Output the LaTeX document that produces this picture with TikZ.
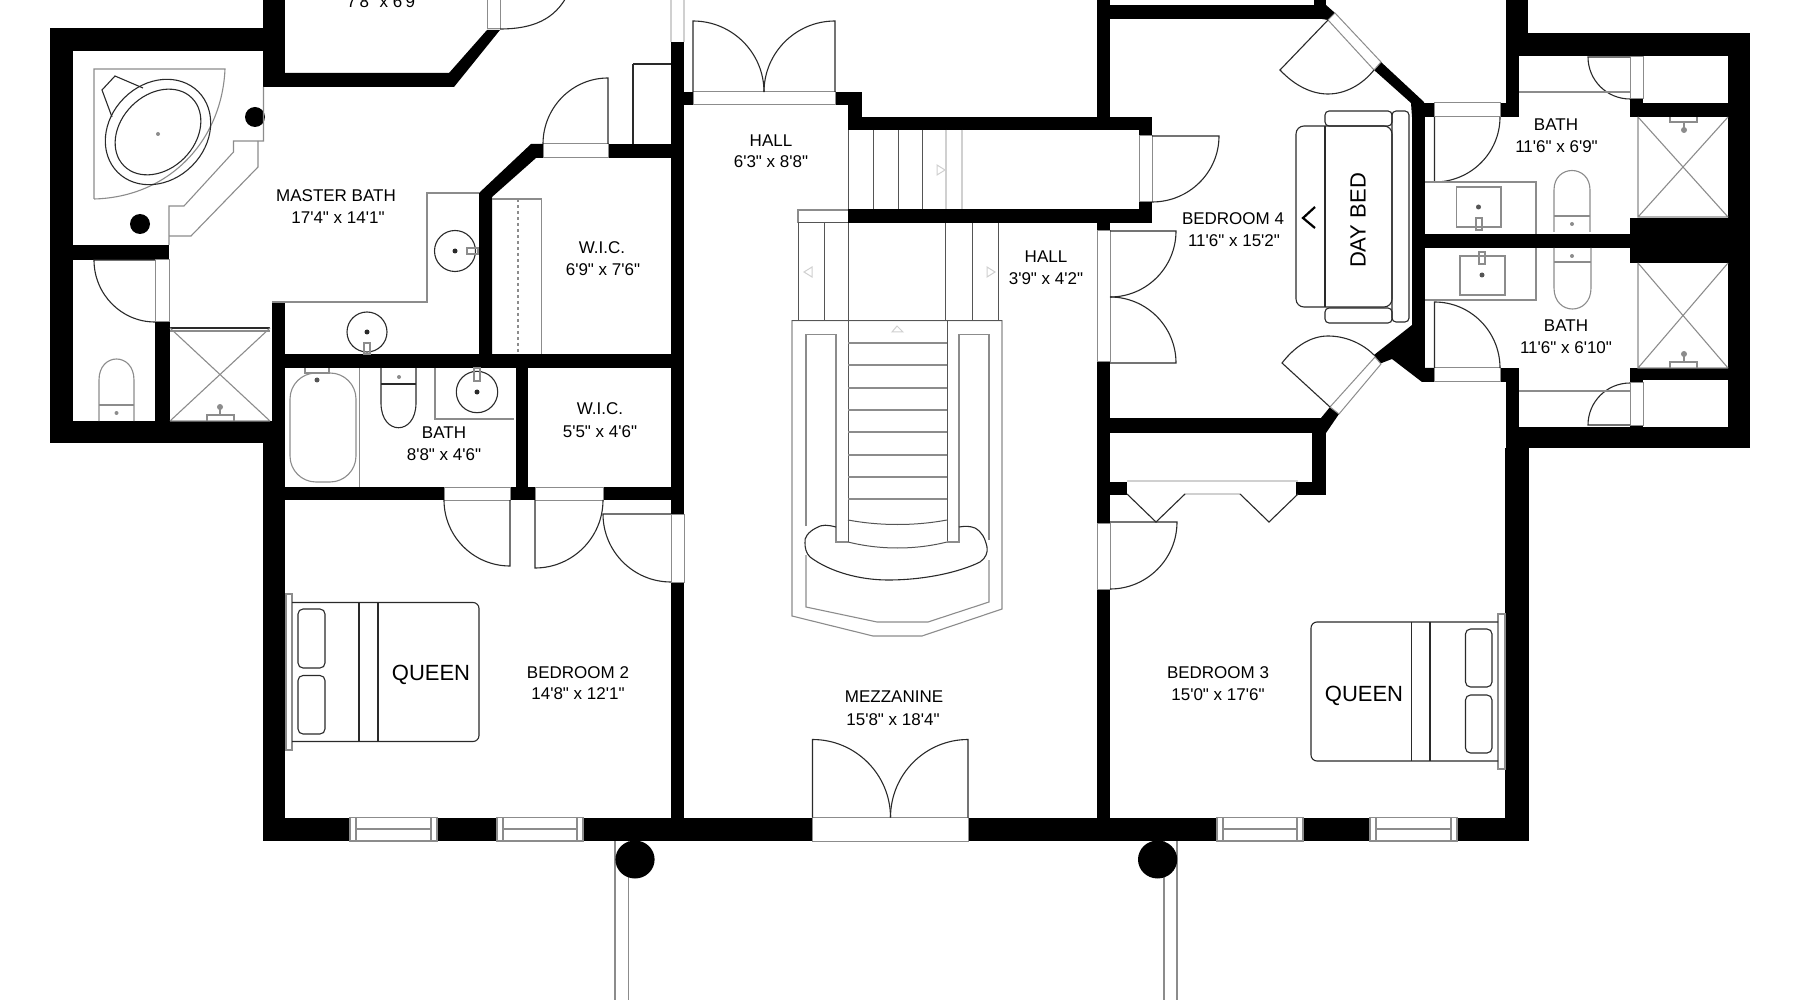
\documentclass[tikz,border=0pt]{standalone}
\usepackage{fontspec}
\usetikzlibrary{calc}
\newfontfamily\labfont{Liberation Sans}
\definecolor{ink}{HTML}{2A2A2A}
\definecolor{mid}{HTML}{555555}
\definecolor{soft}{HTML}{8C8C8C}
\definecolor{faint}{HTML}{D0D0D0}
\tikzset{
  wallfill/.style={fill=black,draw=none},
  thinline/.style={draw=ink,line width=1.1pt},
  midline/.style={draw=mid,line width=1pt},
  softline/.style={draw=soft,line width=1.1pt},
  faintline/.style={draw=faint,line width=1.2pt},
  roomlab/.style={font=\labfont\fontsize{17}{20}\selectfont,text=black,inner sep=0pt,yshift=-1pt},
  biglab/.style={font=\labfont\fontsize{22}{26}\selectfont,text=black,inner sep=0pt,yshift=-2.5pt},
}
\newcommand\wl[4]{\fill[wallfill] (#1,#2) rectangle (#3,#4);}
\newcommand\frm[4]{\filldraw[fill=white,draw=soft,line width=1pt] (#1,#2) rectangle (#3,#4);}
\newcommand\doorleaf[6]{%
  \coordinate (dh) at (#1,#2);\coordinate (da) at (#3,#4);\coordinate (db) at (#5,#6);
  \coordinate (dc) at ($(da)+(db)-(dh)$);
  \draw[thinline] (dh)--(da) .. controls ($(da)!.552!(dc)$) and ($(db)!.552!(dc)$) .. (db);}
\newcommand\win[2]{%
  \fill[white] (#1,817.5) rectangle (#2,841);
  \draw[soft,line width=1.2pt] (#1,817.5) rectangle (#2,841);
  \draw[soft,line width=1.2pt] (#1+6,817.5)--(#1+6,841) (#2-6,817.5)--(#2-6,841) (#1+6,829)--(#2-6,829);}
\newcommand\sink[3]{\draw[thinline] (#1,#2) ellipse [x radius=#3,y radius=#3];\fill[ink] (#1,#2) circle [radius=2.5];}
\begin{document}
\begin{tikzpicture}[x=1pt,y=-1pt]
\useasboundingbox (0,0) rectangle (1800,1000);
\fill[white] (0,0) rectangle (1800,1000);

% ---- walls
\wl{50}{28}{285}{51}
\wl{263}{0}{285}{87}
\fill[wallfill] (263,73)--(449,73)--(487,30)--(500,30)--(454,87)--(263,87)--cycle;
\wl{50}{28}{73}{443}
\wl{50}{421}{285}{443}
\wl{73}{245}{169}{260}
\wl{155}{322}{170}{421}
\wl{272}{302}{285}{443}
\wl{263}{443}{285}{841}
\wl{263}{817.5}{1528.5}{841}
\wl{272}{354}{684}{368}
\fill[wallfill] (479,354)--(479,193)--(531,144)--(543,144)--(543,158)--(536,158)--(492,197)--(492,354)--cycle;
\wl{608}{144}{684}{158}
\wl{671}{42}{684}{841}
\wl{516}{368}{528}{500}
\wl{285}{487}{684}{500}
\wl{684}{92}{862}{105}
\wl{848}{105}{862}{130}
\wl{848}{117}{1152}{130}
\wl{848}{209}{1152}{223}
\wl{1139}{117}{1152}{223}
\wl{1097}{0}{1110}{117}
\wl{1097}{223}{1110}{841}
\wl{1097}{5}{1326}{19}
\wl{1314}{0}{1326}{19}
\fill[wallfill] (1326,5)--(1335,13)--(1328,20)--(1322,19)--cycle;
\fill[wallfill] (1374,70)--(1381,62)--(1424,102)--(1425,117)--(1412,117)--(1411,103)--cycle;
\wl{1412}{103}{1425}{368}
\fill[wallfill] (1412,325)--(1374,355)--(1379,364)--(1392,359)--(1422,382)--(1434.5,382)--(1434.5,368)--(1425,368)--cycle;
\wl{1425}{103}{1434.5}{117}
\wl{1500}{103}{1519}{117}
\wl{1506}{0}{1527.5}{56}
\wl{1506}{33}{1750}{56}
\wl{1506}{56}{1519}{117}
\wl{1728}{33}{1750}{448}
\wl{1506}{427}{1750}{448}
\wl{1506}{368}{1519}{427}
\wl{1500}{368}{1519}{382}
\wl{1425}{234}{1630}{248}
\wl{1630}{218}{1750}{263}
\wl{1630}{103}{1728}{117}
\wl{1630}{56}{1643}{117}
\wl{1630}{368}{1728}{380}
\wl{1630}{368}{1643}{427}
\wl{1505}{448}{1528.5}{841}
\wl{1097}{418}{1321}{433}
\fill[wallfill] (1330,407)--(1339,414)--(1326,433)--(1312,433)--(1321,418)--cycle;
\wl{1312}{433}{1326}{495}
\wl{1296}{482}{1326}{495}
\wl{1110}{482}{1127}{495}

% ---- door frames
\frm{487}{0}{500}{29}
\frm{155}{260}{169}{322}
\frm{543}{144}{608}{158}
\frm{444}{487}{510}{500}
\frm{535}{487}{603}{500}
\frm{671}{514}{684}{582}
\frm{693}{92}{835}{105}
\frm{1139}{136}{1152}{202}
\frm{1097}{231}{1110}{362}
\frm{1097}{523}{1110}{589}
\frm{1434.5}{103}{1500}{117}
\frm{1434.5}{368}{1500}{382}
\frm{1630}{57}{1643}{99}
\frm{1630}{383}{1643}{425}
\frm{812.5}{817.5}{968}{841}
\filldraw[fill=white,draw=soft,line width=1pt] (1328,20)--(1335,13)--(1381,62)--(1374,70)--cycle;
\filldraw[fill=white,draw=soft,line width=1pt] (1375,357)--(1381,364)--(1339,414)--(1330,407)--cycle;
\draw[faintline] (671,0)--(671,42) (684,0)--(684,42);

% ---- windows
\win{350}{437}
\win{497}{583}
\win{1217}{1303}
\win{1370}{1457}

% ---- doors
\draw[thinline] (500,29) .. controls (532,29) and (555,20) .. (568,-6);
\doorleaf{155}{260}{94}{260}{155}{322}
\doorleaf{608}{144}{608}{78}{543}{144}
\doorleaf{510}{500}{510}{566}{444}{500}
\doorleaf{535}{500}{535}{568}{603}{500}
\doorleaf{671}{514}{603}{514}{671}{582}
\doorleaf{693}{92}{693}{21}{764}{92}
\doorleaf{835}{92}{835}{21}{764}{92}
\doorleaf{812.5}{817.5}{812.5}{739.5}{890.5}{817.5}
\doorleaf{968}{817.5}{968}{739.5}{890.5}{817.5}
\doorleaf{1152}{136}{1219}{136}{1152}{202}
\doorleaf{1110}{231}{1176}{231}{1110}{297}
\doorleaf{1110}{363}{1176}{363}{1110}{297}
\doorleaf{1110}{522}{1177}{522}{1110}{589}
\doorleaf{1630}{57}{1588}{57}{1630}{99}
\doorleaf{1630}{425}{1588}{425}{1630}{383}
\doorleaf{1434.5}{117}{1434.5}{182}{1500}{117}
\doorleaf{1434.5}{368}{1434.5}{302}{1500}{368}
\draw[thinline] (1328,20)--(1280,70) .. controls (1295,86) and (1312,94) .. (1328,94) .. controls (1345,94) and (1362,85) .. (1374,70);
\draw[thinline] (1330,407)--(1282,363) .. controls (1296,345) and (1312,336) .. (1328,336) .. controls (1345,336) and (1362,343) .. (1374,355);

% ---- closet bifolds
\draw[faintline] (1127,481)--(1298,481) (1185,494)--(1240,494);
\draw[thinline] (1127,494)--(1156,522)--(1185,494) (1240,494)--(1269,522)--(1298,494);

% ---- master tub
\draw[softline] (94,199)--(94,69)--(225,69) .. controls (222,140) and (170,197) .. (94,199);
\draw[thinline,rotate around={45:(158,132)}] (158,132) ellipse [x radius=57,y radius=48];
\draw[thinline,rotate around={45:(158,132)}] (158,132) ellipse [x radius=48,y radius=37];
\fill[soft] (158,134) circle [radius=2];
\draw[thinline] (112,117)--(102,90)--(115,76)--(143,88);
\fill[black] (255,117) circle [radius=10];
\fill[black] (140,224) circle [radius=10];
\draw[softline] (263.5,87)--(263.5,141)--(233.5,141)--(233.5,152)--(184,206)--(169,206)--(169,245);
\draw[softline] (258,141)--(258,167)--(191,236)--(169,236);

% ---- wing toilet and shower
\draw[softline] (99,421)--(99,380) .. controls (99,352) and (134,352) .. (134,380)--(134,421);
\draw[softline] (99,405)--(134,405);
\fill[soft] (116.5,413) circle [radius=2];
\draw[softline] (170,331)--(270,331);
\draw[thinline] (170,328)--(270,328);
\draw[softline] (170,421)--(270,328) (270,421)--(170,328) (170,421)--(270,421);
\draw[softline] (207,421)--(207,415)--(234,415)--(234,421) (220,415)--(220,407);
\fill[soft] (220,407) circle [radius=3];

% ---- master bath vanity
\draw[softline] (272,302)--(427,302)--(427,193)--(479,193);
\sink{455}{251}{20.5}
\draw[softline] (467,248) rectangle (478,254);
\sink{367}{332}{20}
\draw[softline] (364,343) rectangle (370,354);

% ---- first WIC
\draw[softline] (492,199)--(541.5,199)--(541.5,354);
\draw[softline,dashed] (518,199)--(518,354);
\draw[thinline] (633,64)--(671,64) (633,64)--(633,144);

% ---- small bath
\draw[softline] (359.5,368)--(359.5,487);
\draw[softline,rounded corners=26pt] (290,373) rectangle (356,482);
\draw[softline] (305,368)--(305,373)--(329,373)--(329,368);
\fill[mid] (317,380) circle [radius=2.5];
\draw[thinline] (381,368)--(381,403) .. controls (381,436) and (416,436) .. (416,403)--(416,368);
\draw[thinline] (381,384)--(416,384);
\fill[soft] (399,377) circle [radius=2];
\draw[softline] (435,368)--(435,419)--(514,419);
\sink{477}{392}{20.7}
\draw[softline] (474,368) rectangle (480,381);

% ---- corridor stairs
\draw[midline] (848,130)--(848,209);
\draw[midline] (873,130)--(873,209) (898,130)--(898,209) (922,130)--(922,209);
\draw[faintline] (946,130)--(946,209) (962,130)--(962,209);
\draw[faint,line width=1pt] (937,165)--(945,170)--(937,175)--cycle;

% ---- main stair
\draw[softline] (798,223)--(798,210)--(848,210);
\draw[midline] (798,223)--(848,223);
\draw[midline] (798,223)--(798,320) (824,223)--(824,320) (848,223)--(848,320) (945,223)--(945,320) (972,223)--(972,320) (998,223)--(998,320);
\draw[faint,line width=1pt] (812,267)--(804,272)--(812,277)--cycle (987,267)--(995,272)--(987,277)--cycle (892,332)--(897,326)--(903,332)--cycle;
\draw[softline] (792,320.7)--(1002,320.7)--(1002,609)--(922,636)--(873,636)--(792,616)--cycle;
\draw[midline] (792,320.7)--(1002,320.7);
\draw[midline] (848,320)--(848,542) (947,320)--(947,542);
\draw[softline] (806,526)--(806,334.6)--(836,334.6)--(836,542)--(848,542);
\draw[softline] (989,540)--(989,334.6)--(959,334.6)--(959,542)--(947,542);
\draw[softline] (806,555)--(806,607)--(877,622)--(928,622)--(989,602)--(989,560);
\foreach \ty in {343,365,388,410,432,455,477,499} {\draw[softline] (848,\ty)--(947,\ty);}
\draw[midline] (848,520) .. controls (880,526) and (915,526) .. (947,520);
\draw[midline] (848,542) .. controls (880,550) and (915,550) .. (947,542);
\draw[thinline] (836,527) .. controls (828,525) and (822,524) .. (816,528) .. controls (808,532) and (804,538) .. (805,543) .. controls (805,548) and (806,553) .. (810,557) .. controls (830,572) and (860,580) .. (888,580) .. controls (925,580) and (960,572) .. (980,562) .. controls (986,558) and (988,552) .. (987,547) .. controls (985,538) and (982,532) .. (975,528) .. controls (970,526) and (965,526) .. (959,527);

% ---- bedroom 2 bed
\draw[softline] (286,594) rectangle (292,750);
\draw[thinline,rounded corners=6pt] (292,602.5)--(479,602.5)--(479,741.5)--(292,741.5);
\draw[thinline] (359,602.5)--(359,741.5) (378,602.5)--(378,741.5);
\draw[thinline,rounded corners=5pt] (298,609) rectangle (325,668);
\draw[thinline,rounded corners=5pt] (298,675.5) rectangle (325,734);

% ---- bedroom 3 bed
\draw[softline] (1498,614) rectangle (1505,769);
\draw[thinline,rounded corners=6pt] (1498,622)--(1311,622)--(1311,761)--(1498,761);
\draw[thinline] (1411.5,622)--(1411.5,761) (1430,622)--(1430,761);
\draw[thinline,rounded corners=5pt] (1465.5,629) rectangle (1492,687);
\draw[thinline,rounded corners=5pt] (1465.5,695) rectangle (1492,753);

% ---- columns and railings
\draw[soft,line width=1.3pt] (615,841)--(615,1000) (628.6,841)--(628.6,1000) (1164,841)--(1164,1000) (1177,841)--(1177,1000);
\fill[black] (635,859.5) ellipse [x radius=19.6,y radius=19];
\fill[black] (1157.6,859.5) ellipse [x radius=19.6,y radius=19];

% ---- day bed
\draw[thinline,rounded corners=4pt] (1392,111) rectangle (1409,322);
\draw[thinline,rounded corners=4pt] (1325,111) rectangle (1392,126);
\draw[thinline,rounded corners=4pt] (1325,308) rectangle (1392,323);
\draw[thinline,rounded corners=8pt] (1296,126) rectangle (1392,307);
\draw[thinline] (1325,126)--(1325,307);
\draw[black,line width=2.2pt] (1315,207)--(1303,218)--(1315,228);

% ---- right baths
\draw[softline] (1519,92)--(1630,92) (1519,391)--(1630,391);
\draw[softline] (1425,182)--(1536,182)--(1536,234) (1425,300)--(1536,300)--(1536,248);
\draw[softline] (1456.5,187) rectangle (1501,227) (1460,256) rectangle (1505,295);
\fill[mid] (1478.5,207) circle [radius=2.5] (1482,275) circle [radius=2.5];
\draw[softline] (1476,218) rectangle (1482,230) (1479,252) rectangle (1485,264);
\draw[softline] (1554,232)--(1554,190) .. controls (1554,164) and (1590,164) .. (1590,190)--(1590,232);
\draw[softline] (1554,216)--(1590,216);
\fill[soft] (1572,224) circle [radius=2];
\draw[softline] (1554,248)--(1554,288) .. controls (1554,316) and (1591,316) .. (1591,288)--(1591,248);
\draw[softline] (1554,262)--(1591,262);
\fill[soft] (1572,256) circle [radius=2];
\draw[softline] (1638,117)--(1638,217)--(1728,217) (1638,117)--(1728,217) (1728,117)--(1638,217);
\draw[softline] (1638,263)--(1638,368)--(1728,368) (1638,263)--(1728,368) (1728,263)--(1638,368);
\draw[softline] (1670,117)--(1670,122)--(1697,122)--(1697,117) (1684,122)--(1684,130);
\draw[softline] (1670,368)--(1670,362)--(1697,362)--(1697,368) (1684,362)--(1684,354);
\fill[soft] (1684,130) circle [radius=3] (1684,354) circle [radius=3];

% ---- labels
\node[roomlab] (n01) at (384,1) {7'8" x 6'9"};
\node[roomlab] (n02) at (336,195) {MASTER BATH};
\node[roomlab] (n03) at (338,217) {17'4" x 14'1"};
\node[roomlab] (n04) at (602,247) {W.I.C.};
\node[roomlab] (n05) at (603,269) {6'9" x 7'6"};
\node[roomlab] (n06) at (600,408) {W.I.C.};
\node[roomlab] (n07) at (600,431) {5'5" x 4'6"};
\node[roomlab] (n08) at (444,432) {BATH};
\node[roomlab] (n09) at (444,454) {8'8" x 4'6"};
\node[roomlab] (n10) at (771,140) {HALL};
\node[roomlab] (n11) at (771,161) {6'3" x 8'8"};
\node[roomlab] (n12) at (1046,256) {HALL};
\node[roomlab] (n13) at (1046,278) {3'9" x 4'2"};
\node[roomlab] (n14) at (1233,218) {BEDROOM 4};
\node[roomlab] (n15) at (1234,240) {11'6" x 15'2"};
\node[roomlab] (n16) at (1556,124) {BATH};
\node[roomlab] (n17) at (1556.5,146) {11'6" x 6'9"};
\node[roomlab] (n18) at (1566,325) {BATH};
\node[roomlab] (n19) at (1566,347) {11'6" x 6'10"};
\node[roomlab] (n20) at (578,672) {BEDROOM 2};
\node[roomlab] (n21) at (578,693) {14'8" x 12'1"};
\node[roomlab] (n22) at (894,696) {MEZZANINE};
\node[roomlab] (n23) at (893,718.5) {15'8" x 18'4"};
\node[roomlab] (n24) at (1218,672) {BEDROOM 3};
\node[roomlab] (n25) at (1218,694) {15'0" x 17'6"};
\node[biglab] (n26) at (431,672) {QUEEN};
\node[biglab] (n27) at (1364,693) {QUEEN};
\node[biglab,rotate=90] (n28) at (1358,218) {DAY BED};
\end{tikzpicture}
\end{document}
